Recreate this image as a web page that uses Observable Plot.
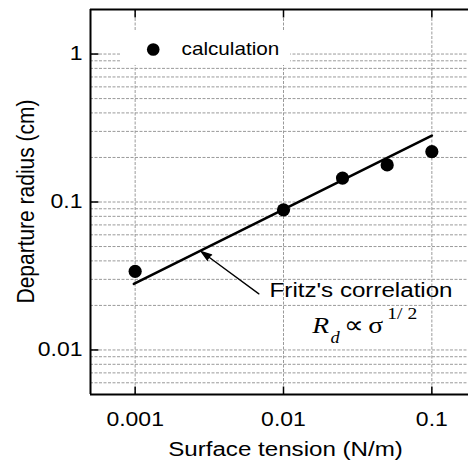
<!DOCTYPE html>
<html>
<head>
<meta charset="utf-8">
<script src="https://cdn.jsdelivr.net/npm/d3@7"></script>
<script src="https://cdn.jsdelivr.net/npm/@observablehq/plot@0.6"></script>
<style>
  html, body { margin: 0; padding: 0; background: #fff; overflow: hidden; }
</style>
</head>
<body>
<div id="chart"></div>
<script>
// ---- data ----
const sigma = [0.001, 0.01, 0.025, 0.05, 0.1];          // Surface tension (N/m)
const radius = [0.034, 0.0885, 0.145, 0.178, 0.219];     // Departure radius (cm), calculation
const fritzSigma = [0.00098, 0.1];                        // Fritz's correlation line
const fritzRadius = [0.028, 0.281];
const xTicks = [0.001, 0.01, 0.1];
const yTicks = [0.01, 0.1, 1];
const yGrid = [0.005, 0.006, 0.007, 0.008, 0.009,
               0.01, 0.02, 0.03, 0.04, 0.05, 0.06, 0.07, 0.08, 0.09,
               0.1, 0.2, 0.3, 0.4, 0.5, 0.6, 0.7, 0.8, 0.9, 1];
const xDomain = [0.0005, 0.2];
const yDomain = [0.005, 2];

// annotation anchors (data coordinates)
const legendBox = [{x1: 0.000797, x2: 0.01117, y1: 0.836, y2: 1.419}];
const legendMark = [{x: 0.001324, y: 1.0725}];
const legendLabel = [{x: 0.002056, y: 1.0725, text: "calculation"}];
const arrowAnn = [{x1: 0.006824, y1: 0.02394, x2: 0.002791, y2: 0.04626}];
const fritzLabel = [{x: 0.00806, y: 0.02272, text: "Fritz's correlation"}];
const formulaItalic = [
  {x: 0.01564, y: 0.01297, text: "R", size: 24},
  {x: 0.02078, y: 0.0111, text: "d", size: 16}
];
const formulaUpright = [
  {x: 0.02542, y: 0.01297, text: "\u221D", size: 24},
  {x: 0.0373, y: 0.01297, text: "\u03C3", size: 24},
  {x: 0.0501, y: 0.01623, text: "1/ 2", size: 17}
];

const calc = sigma.map((s, i) => ({s, r: radius[i]}));
const fritz = fritzSigma.map((s, i) => ({s, r: fritzRadius[i]}));

// inward tick symbols
const tickUp = {draw(c) { c.moveTo(0, 0); c.lineTo(0, -8); }};
const tickDown = {draw(c) { c.moveTo(0, 0); c.lineTo(0, 8); }};
const tickRight = {draw(c) { c.moveTo(0, 0); c.lineTo(8, 0); }};

const sans = "'Liberation Sans', Arial, Helvetica, sans-serif";
const serif = "'Liberation Serif', 'Times New Roman', Times, serif";

const svg = Plot.plot({
  width: 468,
  height: 464,
  marginLeft: 90,
  marginRight: 0,
  marginTop: 9,
  marginBottom: 70,
  style: {background: "#fff", overflow: "hidden", fontFamily: sans, fontSize: "20px", color: "black"},
  x: {type: "log", domain: xDomain, range: [90, 476], ticks: xTicks, tickFormat: d => String(d),
      tickSize: 0, tickPadding: 17, label: null},
  y: {type: "log", domain: yDomain, ticks: yTicks, tickFormat: d => String(d),
      tickSize: 0, tickPadding: 8, label: null},
  marks: [
    Plot.ruleY(yGrid, {y: d => d, stroke: "#9a9a9a", strokeWidth: 1, strokeDasharray: "3,1.5"}),
    Plot.ruleX(xTicks, {x: d => d, stroke: "#9a9a9a", strokeWidth: 1, strokeDasharray: "3,1.5"}),
    Plot.rect(legendBox, {x1: "x1", x2: "x2", y1: "y1", y2: "y2", fill: "white"}),
    // frame (left, top, bottom; right side lies outside the picture)
    Plot.ruleX([xDomain[0]], {x: d => d, stroke: "black", strokeWidth: 2}),
    Plot.ruleY(yDomain, {y: d => d, stroke: "black", strokeWidth: 2}),
    // inward major ticks
    Plot.dot(xTicks, {x: d => d, y: () => yDomain[0], symbol: tickUp, stroke: "black", fill: "none", strokeWidth: 1.5}),
    Plot.dot(xTicks, {x: d => d, y: () => yDomain[1], symbol: tickDown, stroke: "black", fill: "none", strokeWidth: 1.5}),
    Plot.dot(yTicks, {x: () => xDomain[0], y: d => d, symbol: tickRight, stroke: "black", fill: "none", strokeWidth: 1.5}),
    // Fritz's correlation
    Plot.line(fritz, {x: "s", y: "r", stroke: "black", strokeWidth: 2.6}),
    // calculation points
    Plot.dot(calc, {x: "s", y: "r", r: 6.6, fill: "black", stroke: "none"}),
    // legend
    Plot.dot(legendMark, {x: "x", y: "y", r: 6.3, fill: "black", stroke: "none"}),
    Plot.text(legendLabel, {x: "x", y: "y", text: "text", fontSize: 18, textAnchor: "start", lineAnchor: "middle", fill: "black"}),
    // arrow + labels
    Plot.arrow(arrowAnn, {x1: "x1", y1: "y1", x2: "x2", y2: "y2", stroke: "black", fill: "black",
      strokeWidth: 1.3, headLength: 12.5, headAngle: 36}),
    Plot.text(fritzLabel, {x: "x", y: "y", text: "text", fontSize: 21, textAnchor: "start", lineAnchor: "bottom", fill: "black"}),
    Plot.text(formulaItalic, {x: "x", y: "y", text: "text", fontSize: d => d.size, fontFamily: serif,
      fontStyle: "italic", textAnchor: "start", lineAnchor: "bottom", fill: "black"}),
    Plot.text(formulaUpright, {x: "x", y: "y", text: "text", fontSize: d => d.size, fontFamily: serif,
      textAnchor: "start", lineAnchor: "bottom", fill: "black"}),
    // axis titles
    Plot.text(["Surface tension (N/m)"], {frameAnchor: "bottom", text: d => d, textAnchor: "middle",
      lineAnchor: "bottom", dx: 6, dy: 61, fontSize: 21, fill: "black"}),
    Plot.text(["Departure radius (cm)"], {frameAnchor: "left", text: d => d, textAnchor: "middle",
      lineAnchor: "bottom", rotate: -90, dx: -57, dy: -0.5, fontSize: 21, fill: "black"})
  ]
});

// the reference's lettering is slightly wider than Arial: stretch along the image's x direction
const SX = 1.15;
svg.querySelectorAll("text").forEach(t => {
  const tr = t.getAttribute("transform") || "";
  const x = t.getAttribute("x");
  let extra = "";
  if (x != null && !/em/.test(x)) { t.removeAttribute("x"); extra = `translate(${x},0) `; }
  if (/rotate/.test(tr)) t.setAttribute("transform", `${tr} ${extra}scale(1,${SX})`);
  else t.setAttribute("transform", `${tr} ${extra}scale(${SX},1)`);
});

document.getElementById("chart").appendChild(svg);
</script>
</body>
</html>
